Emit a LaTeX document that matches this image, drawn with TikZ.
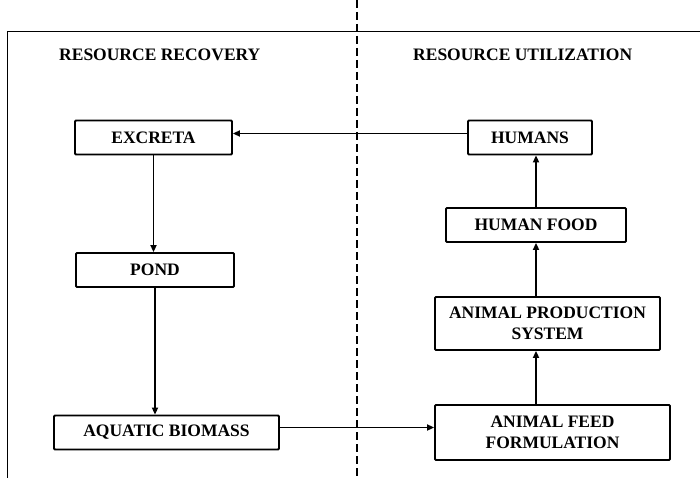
\documentclass[tikz,border=0pt]{standalone}
\usepackage{fontspec}
\setmainfont{Liberation Serif}
\usetikzlibrary{arrows.meta,positioning}
\tikzset{
  box/.style={draw=black, line width=1.8pt, rounded corners=1pt, minimum width=#1, align=center, inner sep=0pt, font=\bfseries\fontsize{17.5}{21.5}\selectfont},
  title/.style={anchor=west, inner sep=0pt, font=\bfseries\fontsize{17.5}{21.5}\selectfont},
  flow/.style={-{Triangle[length=7pt,width=6pt]}, line width=1.7pt, draw=black},
  frame/.style={line width=1.9pt, draw=black}
}
\begin{document}
\begin{tikzpicture}[x=1pt, y=-1pt]
  \useasboundingbox (0,0) rectangle (700,478);
  % frame and divider
  \draw[frame] (7.5,478) -- (7.5,31.5) -- (700,31.5);
  \draw[line width=1.8pt, dash pattern=on 8pt off 4pt] (357,0) -- (357,478);

  \node[title] (recovery) at (59,55) {RESOURCE RECOVERY};
  \node[title] (utilization) at (413,55) {RESOURCE UTILIZATION};

  % resource recovery side
  \node[box=157pt, minimum height=34pt] (excreta) at (153.5,137.5) {EXCRETA};
  \node[box=158pt, minimum height=34pt] (pond) at (155,270) {POND};
  \node[box=225pt, minimum height=34pt] (biomass) at (166.5,432.5) {AQUATIC BIOMASS};

  % resource utilization side
  \node[box=124pt, minimum height=34pt] (humans) at (530,137.5) {HUMANS};
  \node[box=180pt, minimum height=34pt] (food) at (536,225) {HUMAN FOOD};
  \node[box=225pt, minimum height=53pt] (production) at (547.5,323.5) {ANIMAL PRODUCTION\\SYSTEM};
  \node[box=235pt, minimum height=55pt] (feed) at (552.5,432.5) {ANIMAL FEED\\FORMULATION};

  \draw[flow] ([yshift=4pt]humans.west) -- ([yshift=4pt]humans.west -| excreta.east);
  \draw[flow] (excreta.south) -- (excreta.south |- pond.north);
  \draw[flow] (pond.south) -- (pond.south |- biomass.north);
  \draw[flow] ([yshift=5pt]biomass.east) -- ([yshift=5pt]biomass.east -| feed.west);
  \draw[flow] (food.south |- feed.north) -- (food.south |- production.south);
  \draw[flow] (food.south |- production.north) -- (food.south);
  \draw[flow] (food.north) -- (food.north |- humans.south);
\end{tikzpicture}
\end{document}
